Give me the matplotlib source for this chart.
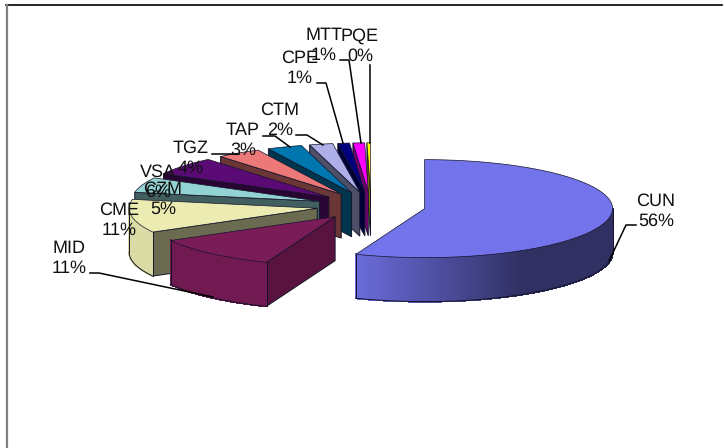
from __future__ import annotations

import numpy as np
import matplotlib
matplotlib.use("Agg")
import matplotlib.pyplot as plt
from matplotlib.colors import to_rgb
from matplotlib.patches import Polygon

labels = ["CUN", "MID", "CME", "CZM", "VSA", "TGZ", "TAP", "CTM", "CPE", "MTT", "PQE"]
shares = [56, 11, 11, 5, 6, 3.8, 3, 2, 1, 1, 0.3]
colors = ["#7373EB", "#7A1C58", "#ECECB2", "#92D2D2", "#5A0A74", "#EC7878",
          "#0076AE", "#AEAEE8", "#00007E", "#FF00FF", "#FFFF00"]

# pie geometry in pixels of the 724x448 picture
CX, CY = 371, 206
RX, RY = 188, 49
DEPTH = 44
EXPLODE = 0.29
EDGE = "#14142a"

# centre of each label, same order as labels
label_xy = [(656, 211), (69, 258), (119, 220), (163, 199), (158, 182), (191, 158),
            (243, 140), (280, 120), (300, 68), (324, 45), (360, 46)]
leaders = [
    [(636, 225), (626, 225), (609, 261)],
    [(90, 273), (99, 273), (213, 297)],
    [(212, 154), (239, 154)],
    [(263, 136), (275, 136), (290, 147)],
    [(296, 135), (307, 135), (323, 145)],
    [(317, 83), (326, 83), (343, 143)],
    [(340, 60), (349, 60), (361, 143)],
    [(370, 65), (370, 143)],
]


def on_ellipse(apex, angle):
    """Rim point for an angle in degrees, clockwise from 12 o'clock."""
    a = np.radians(angle)
    return apex[0] + RX * np.sin(a), apex[1] - RY * np.cos(a)


def shade(color, factor):
    return tuple(c * factor for c in to_rgb(color))


def draw_rim(ax, apex, start, end, color, z):
    lo, hi = max(start, 90), min(end, 270)
    if lo >= hi:
        return
    steps = np.linspace(lo, hi, int((hi - lo) * 1.5) + 2)
    for a0, a1 in zip(steps[:-1], steps[1:]):
        mid = (a0 + a1) / 2
        # dark around 3-4 o'clock, close to the face colour towards the left
        factor = float(np.clip(0.42 + (mid - 150) / 51 * 0.51, 0.42, 0.93))
        x0, y0 = on_ellipse(apex, a0)
        x1, y1 = on_ellipse(apex, a1)
        # no antialiasing here, it leaves stripes between the small strips
        ax.add_patch(Polygon([(x0, y0), (x1, y1), (x1, y1 + DEPTH), (x0, y0 + DEPTH)],
                             facecolor=shade(color, factor), edgecolor=shade(color, factor),
                             linewidth=0.8, antialiased=False, zorder=z))
    arc = [on_ellipse(apex, a) for a in steps]
    lower = [(x, y + DEPTH) for x, y in arc]
    ax.plot(*zip(*lower), color=EDGE, linewidth=0.7, zorder=z + 0.1)
    ax.plot(*zip(arc[0], lower[0]), color=EDGE, linewidth=0.7, zorder=z + 0.1)
    ax.plot(*zip(arc[-1], lower[-1]), color=EDGE, linewidth=0.7, zorder=z + 0.1)


def draw_slice(ax, start, end, color, z):
    mid = np.radians((start + end) / 2)
    apex = (CX + EXPLODE * RX * np.sin(mid), CY - EXPLODE * RY * np.cos(mid))

    # side wall facing the viewer, lighter when it turns towards the front
    if 180 < start < 360:
        x, y = on_ellipse(apex, start)
        factor = float(np.clip(0.72 - (start - 201.6) / 40 * 0.27, 0.45, 0.72))
        ax.add_patch(Polygon([apex, (x, y), (x, y + DEPTH), (apex[0], apex[1] + DEPTH)],
                             facecolor=shade(color, factor), edgecolor=EDGE,
                             linewidth=0.7, zorder=z))
    draw_rim(ax, apex, start, end, color, z)

    angles = np.linspace(start, end, max(int(end - start) * 2, 3))
    top = [apex] + [on_ellipse(apex, a) for a in angles]
    ax.add_patch(Polygon(top, facecolor=color, edgecolor=EDGE, linewidth=0.5, zorder=z + 0.2))


def main() -> None:
    plt.rcParams["font.family"] = ["Liberation Sans", "DejaVu Sans"]
    plt.rcParams["text.hinting"] = "no_hinting"
    plt.rcParams["text.hinting_factor"] = 1
    fig = plt.figure(figsize=(7.24, 4.48), dpi=100)
    ax = fig.add_axes([0, 0, 1, 1])
    ax.set_xlim(0, 724)
    ax.set_ylim(448, 0)
    ax.axis("off")

    # chart frame, only top and left edges survive the crop
    ax.plot([6, 722], [5, 5], color="black", linewidth=1.2, zorder=1)
    ax.plot([6.5, 6.5], [5, 448], color="#808080", linewidth=1.6, zorder=1)

    edges = np.concatenate([[0], np.cumsum(shares)]) / np.sum(shares) * 360
    for i in range(len(shares) - 1, -1, -1):
        draw_slice(ax, edges[i], edges[i + 1], colors[i], z=10 + (len(shares) - i))

    for line in leaders:
        ax.plot(*zip(*line), color="black", linewidth=1.1, zorder=40)

    for name, share, (x, y) in zip(labels, shares, label_xy):
        ax.text(x, y, f"{name}\n{share:.0f}%", ha="center", va="center",
                fontsize=12.8, linespacing=1.27, color="#111111", zorder=50)

    fig.savefig("out.png", dpi=100)
    plt.close(fig)


if __name__ == "__main__":
    main()
